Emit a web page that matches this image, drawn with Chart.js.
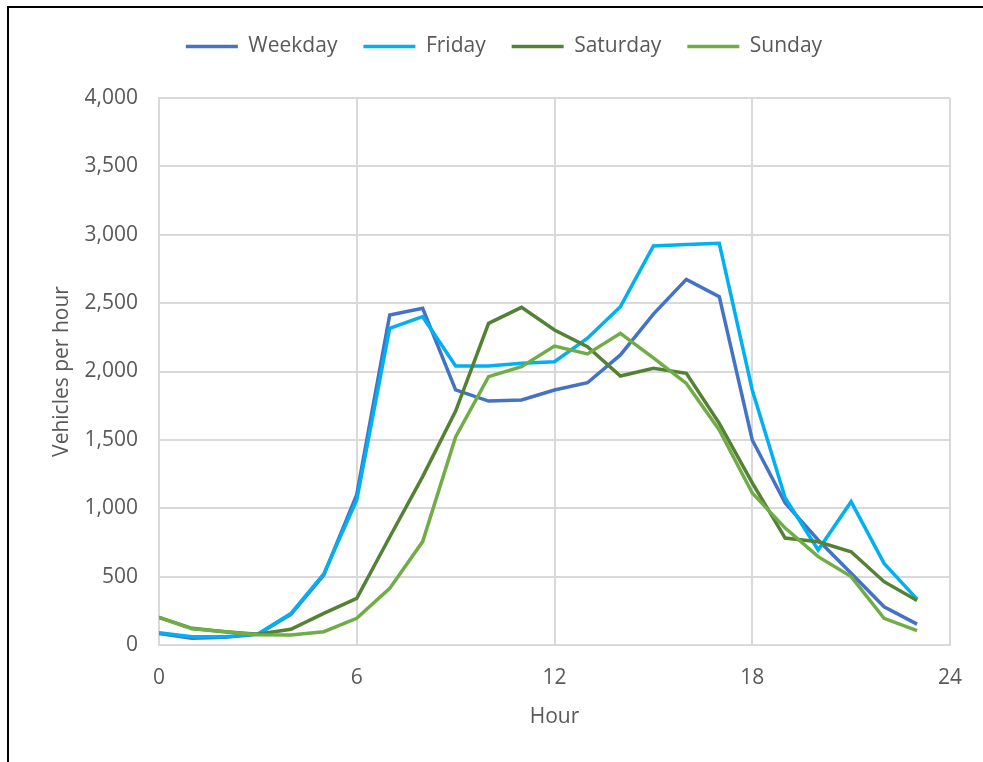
<!DOCTYPE html>
<html>
<head>
<meta charset="utf-8">
<script src="https://cdn.jsdelivr.net/npm/chart.js@4/dist/chart.umd.min.js"></script>
<style>
  html, body { margin: 0; padding: 0; background: #fff; }
  #wrap { position: relative; width: 983px; height: 762px; }
  #frame { position: absolute; left: 7px; top: 6px; right: 0; bottom: 0;
           border-left: 2px solid #000; border-top: 2px solid #000; pointer-events: none; }
</style>
</head>
<body>
<div id="wrap">
  <canvas id="chart" width="983" height="762"></canvas>
  <div id="frame"></div>
</div>
<script>
// hourly traffic counts
const hours = [0, 1, 2, 3, 4, 5, 6, 7, 8, 9, 10, 11, 12, 13, 14, 15, 16, 17, 18, 19, 20, 21, 22, 23];
const weekday = [85, 50, 56, 78, 224, 512, 1100, 2413, 2462, 1865, 1784, 1792, 1865, 1918, 2121, 2420, 2674, 2547, 1499, 1038, 768, 524, 280, 153];
const friday = [90, 60, 60, 80, 230, 520, 1060, 2316, 2401, 2040, 2040, 2060, 2072, 2243, 2474, 2918, 2928, 2937, 1865, 1075, 695, 1048, 597, 335];
const saturday = [202, 122, 97, 78, 115, 231, 341, 790, 1231, 1710, 2352, 2469, 2303, 2181, 1967, 2023, 1987, 1621, 1185, 782, 755, 682, 463, 325];
const sunday = [202, 118, 97, 75, 73, 97, 195, 414, 756, 1521, 1962, 2035, 2186, 2128, 2279, 2100, 1913, 1572, 1111, 855, 646, 500, 195, 105];
const yTicksMax = 4000;

const textColor = '#595959';
const gridColor = '#d9d9d9';
const font = { family: "'Open Sans', sans-serif", size: 21 };

function points(arr) {
  return hours.map((h, i) => ({ x: h, y: arr[i] }));
}

function series(label, arr, color, order) {
  return {
    label: label,
    data: points(arr),
    borderColor: color,
    backgroundColor: color,
    borderWidth: 3.5,
    pointRadius: 0,
    pointStyle: 'line',
    tension: 0,
    order: order,
  };
}

// move the legend up and to the right after layout
const legendNudge = {
  id: 'legendNudge',
  afterLayout(chart) {
    const lg = chart.legend;
    lg.top -= 31; lg.bottom -= 31;
    lg.left += 24; lg.right += 24;
  }
};

new Chart(document.getElementById('chart'), {
  type: 'line',
  data: {
    datasets: [
      series('Weekday', weekday, '#4472C4', 4),
      series('Friday', friday, '#00B0F0', 3),
      series('Saturday', saturday, '#548235', 2),
      series('Sunday', sunday, '#70AD47', 1),
    ]
  },
  plugins: [legendNudge],
  options: {
    responsive: false,
    animation: false,
    locale: 'en-US',
    layout: { padding: { left: 10, right: 33, top: 41, bottom: 20 } },
    plugins: {
      tooltip: { enabled: false },
      legend: {
        position: 'top',
        labels: {
          usePointStyle: true,
          pointStyleWidth: 52,
          padding: 26,
          color: textColor,
          font: font,
          sort: (a, b) => a.datasetIndex - b.datasetIndex,
        }
      }
    },
    scales: {
      x: {
        type: 'linear',
        min: 0,
        max: 24,
        afterFit: (s) => { s.height = 97; },
        ticks: { stepSize: 6, padding: 20, color: textColor, font: font },
        grid: { color: gridColor, lineWidth: 2, drawTicks: false },
        border: { color: gridColor, width: 2 },
        title: { display: true, text: 'Hour', color: textColor, font: font, padding: { top: 0, bottom: 12 } }
      },
      y: {
        min: 0,
        max: yTicksMax,
        afterFit: (s) => { s.width = 149; },
        ticks: { stepSize: 500, padding: 21, color: textColor, font: font },
        grid: { color: gridColor, lineWidth: 2, drawTicks: false },
        border: { color: gridColor, width: 2 },
        title: { display: true, text: 'Vehicles per hour', color: textColor, font: font, padding: { top: 39, bottom: 0 } }
      }
    }
  }
});
</script>
</body>
</html>
